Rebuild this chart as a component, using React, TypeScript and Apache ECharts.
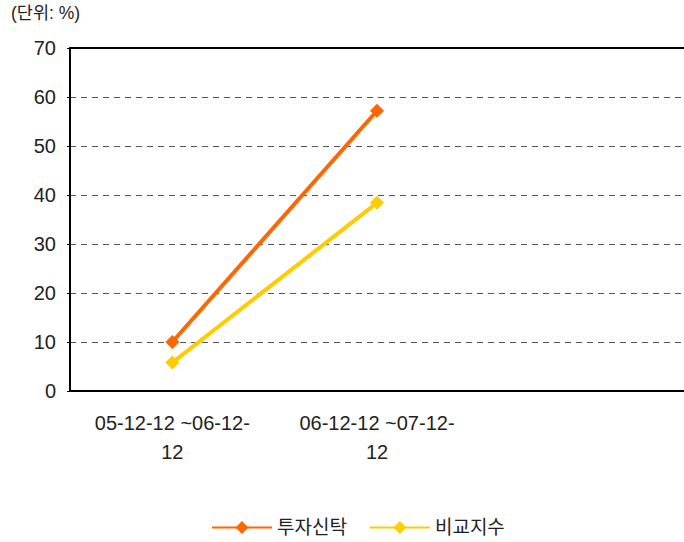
import React, { useEffect, useRef } from "react";
import * as echarts from "echarts";

const categories = ["05-12-12 ~06-12-\n12", "06-12-12 ~07-12-\n12", ""];
const seriesNames = ["투자신탁", "비교지수"];
const fundValues = [10.0, 57.2];
const indexValues = [5.8, 38.4];
const yTicks = { min: 0, max: 70, interval: 10 };

export default function App() {
  const ref = useRef<HTMLDivElement>(null);
  useEffect(() => {
    document.body.style.margin = "0";
    const chart = echarts.init(ref.current!, null, { renderer: "svg" });
    const font = '"Liberation Sans", "Noto Sans CJK KR", sans-serif';
    chart.setOption({
      animation: false,
      textStyle: { fontFamily: font },
      graphic: [
        {
          type: "text",
          left: 11,
          top: 4,
          style: { text: "(단위: %)", fontSize: 17.5, fill: "#222", fontFamily: font },
        },
      ],
      grid: { left: 70, top: 48, width: 621, height: 343 },
      legend: {
        left: 206,
        top: 513,
        itemWidth: 60,
        itemHeight: 16,
        itemGap: 22,
        textStyle: { fontSize: 19, color: "#222", fontFamily: font },
        data: seriesNames,
      },
      xAxis: [
        {
          type: "category",
          data: categories,
          boundaryGap: true,
          axisLine: { lineStyle: { color: "#000", width: 2 } },
          axisTick: { inside: true, length: 7, lineStyle: { color: "#000", width: 1 } },
          axisLabel: { color: "#222", fontSize: 20, margin: 17, lineHeight: 29, interval: 0 },
        },
        {
          type: "category",
          data: categories,
          position: "top",
          axisLine: { lineStyle: { color: "#000", width: 2 } },
          axisTick: { show: false },
          axisLabel: { show: false },
        },
      ],
      yAxis: {
        type: "value",
        min: yTicks.min,
        max: yTicks.max,
        interval: yTicks.interval,
        axisLine: { show: true, lineStyle: { color: "#000", width: 2 } },
        axisTick: { show: true, length: 3, lineStyle: { color: "#000" } },
        axisLabel: { color: "#222", fontSize: 20, margin: 14 },
        splitLine: { lineStyle: { color: "#555", type: [6, 5], width: 1 } },
      },
      series: [
        {
          name: seriesNames[0],
          type: "line",
          data: fundValues,
          symbol: "diamond",
          symbolSize: 14,
          lineStyle: { color: "#FF6600", width: 4 },
          itemStyle: { color: "#FF6600" },
        },
        {
          name: seriesNames[1],
          type: "line",
          data: indexValues,
          symbol: "diamond",
          symbolSize: 14,
          lineStyle: { color: "#FFCC00", width: 4 },
          itemStyle: { color: "#FFCC00" },
        },
      ],
    });
    return () => chart.dispose();
  }, []);
  return <div ref={ref} style={{ width: 684, height: 542 }} />;
}
